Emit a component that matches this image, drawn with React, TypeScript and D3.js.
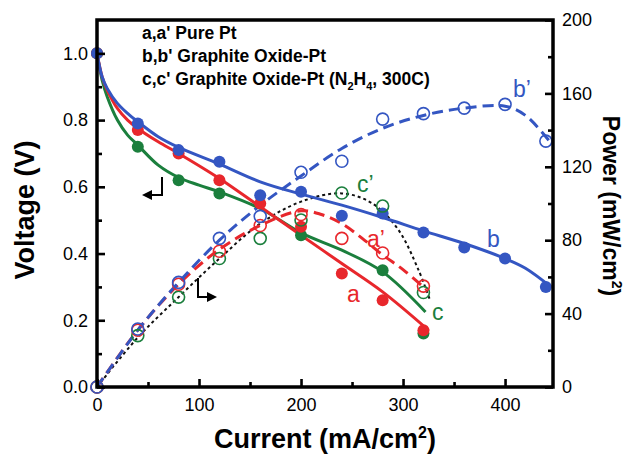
import React, { useEffect, useRef } from 'react';
import * as d3 from 'd3';

const FONT = 'Arial, "Liberation Sans", Helvetica, sans-serif';
const BLUE = '#3456c2';
const RED = '#e8272c';
const GREEN = '#1b7f3d';

// Measured points
const currentAC = [0, 40, 80, 120, 160, 200, 240, 280, 320];
const currentB = [0, 40, 80, 120, 160, 200, 240, 280, 320, 360, 400, 440];
const currentCV = [0, 40, 80, 120, 200, 280, 320];
const voltA = [1.0, 0.77, 0.70, 0.62, 0.55, 0.48, 0.34, 0.26, 0.17];
const voltB = [1.0, 0.79, 0.71, 0.675, 0.575, 0.585, 0.513, 0.52, 0.463, 0.418, 0.385, 0.30];
const voltC = [1.0, 0.72, 0.62, 0.58, 0.455, 0.35, 0.16];
const powA = [0, 31, 56, 74, 88, 94, 81, 73, 55];
const powB = [0, 31.6, 57, 81, 93, 117, 123, 146, 149, 152, 154, 134];
const powC = [0, 28, 49, 70, 81, 91, 105.7, 98.6, 51.5];

// Fitted curves
const fitXA = [0, 5, 10, 20, 30, 40, 60, 80, 120, 160, 200, 240, 280, 325];
const fitVA = [1.0, 0.93, 0.89, 0.835, 0.80, 0.775, 0.735, 0.70, 0.625, 0.54, 0.455, 0.37, 0.285, 0.17];
const fitXB = [0, 5, 10, 20, 30, 40, 60, 80, 120, 160, 200, 240, 280, 320, 360, 400, 420, 445];
const fitVB = [1.0, 0.93, 0.895, 0.85, 0.82, 0.795, 0.75, 0.718, 0.668, 0.615, 0.578, 0.545, 0.508, 0.468, 0.43, 0.385, 0.356, 0.30];
const fitXC = [0, 5, 10, 20, 30, 40, 60, 80, 100, 120, 160, 200, 240, 280, 322];
const fitVC = [1.0, 0.92, 0.87, 0.80, 0.755, 0.725, 0.665, 0.628, 0.605, 0.585, 0.535, 0.462, 0.41, 0.345, 0.225];
const fitXPA = [0, 40, 80, 120, 160, 200, 220, 240, 260, 280, 300, 323];
const fitPA = [0, 31, 56, 75, 88, 96, 94, 89, 81, 72, 64, 53];
const fitXPB = [0, 40, 80, 120, 160, 200, 240, 280, 320, 360, 400, 420, 445];
const fitPB = [0, 31, 57, 80, 99, 115, 130, 141, 148, 152, 153, 148, 133];
const fitXPC = [0, 40, 80, 120, 160, 200, 240, 270, 295, 315, 326];
const fitPC = [0, 27, 49, 70, 89, 101, 105.5, 100, 86, 64, 48];

const xTicks = [0, 100, 200, 300, 400];
const xMinor = [50, 150, 250, 350];
const vTicks = [0, 0.2, 0.4, 0.6, 0.8, 1.0];
const vMinor = [0.1, 0.3, 0.5, 0.7, 0.9];
const pTicks = [0, 40, 80, 120, 160, 200];
const pMinor = [20, 60, 100, 140, 180];

export default function App() {
  const axRef = useRef<SVGGElement>(null);
  const x = d3.scaleLinear().domain([0, 447]).range([97, 553]);
  const yV = d3.scaleLinear().domain([0, 1.1]).range([387, 20]);
  const yP = d3.scaleLinear().domain([0, 200]).range([387, 20]);

  useEffect(() => {
    const g = d3.select(axRef.current);
    g.selectAll('*').remove();
    const style = (sel: any) => {
      sel.select('.domain').remove();
      sel.selectAll('text').attr('font-size', 18).attr('font-family', FONT).attr('fill', '#000');
      sel.selectAll('line').attr('stroke', '#000').attr('stroke-width', 2.6);
    };
    g.append('g').attr('transform', 'translate(0,387)')
      .call(d3.axisBottom(x).tickValues(xTicks).tickSize(-8).tickPadding(11).tickFormat(d3.format('d'))).call(style);
    g.append('g').attr('transform', 'translate(0,387)')
      .call(d3.axisBottom(x).tickValues(xMinor).tickSize(-5).tickFormat(() => '')).call(style);
    g.append('g').attr('transform', 'translate(97,0)')
      .call(d3.axisLeft(yV).tickValues(vTicks).tickSize(-8).tickPadding(9).tickFormat(d3.format('.1f'))).call(style);
    g.append('g').attr('transform', 'translate(97,0)')
      .call(d3.axisLeft(yV).tickValues(vMinor).tickSize(-5).tickFormat(() => '')).call(style);
    g.append('g').attr('transform', 'translate(553,0)')
      .call(d3.axisRight(yP).tickValues(pTicks).tickSize(-8).tickPadding(9).tickFormat(d3.format('d'))).call(style);
    g.append('g').attr('transform', 'translate(553,0)')
      .call(d3.axisRight(yP).tickValues(pMinor).tickSize(-5).tickFormat(() => '')).call(style);
  }, []);

  const lineV = (xs: number[], ys: number[]) =>
    d3.line<number>().x((_, i) => x(xs[i])).y((d) => yV(d)).curve(d3.curveCatmullRom.alpha(0.5))(ys) || '';
  const lineP = (xs: number[], ys: number[]) =>
    d3.line<number>().x((_, i) => x(xs[i])).y((d) => yP(d)).curve(d3.curveCatmullRom.alpha(0.5))(ys) || '';

  const R = 6;
  const filled = (xs: number[], ys: number[], c: string, k: string) =>
    ys.map((v, i) => <circle key={k + i} cx={x(xs[i])} cy={yV(v)} r={R} fill={c} />);
  const open = (xs: number[], ys: number[], c: string, k: string) =>
    ys.map((v, i) => <circle key={k + i} cx={x(xs[i])} cy={yP(v)} r={R} fill="none" stroke={c} strokeWidth={1.6} />);

  return (
    <svg width={627} height={456} style={{ position: 'absolute', left: 0, top: 0, background: '#fff' }}>
      <rect x={0} y={0} width={627} height={456} fill="#fff" />
      {/* fitted curves */}
      <path d={lineP(fitXPC, fitPC)} fill="none" stroke="#111" strokeWidth={2} strokeDasharray="3,3" />
      <path d={lineP(fitXPA, fitPA)} fill="none" stroke={RED} strokeWidth={3} strokeDasharray="11,6" />
      <path d={lineP(fitXPB, fitPB)} fill="none" stroke={BLUE} strokeWidth={3} strokeDasharray="11,6" />
      <path d={lineV(fitXC, fitVC)} fill="none" stroke={GREEN} strokeWidth={3} />
      <path d={lineV(fitXA, fitVA)} fill="none" stroke={RED} strokeWidth={3} />
      <path d={lineV(fitXB, fitVB)} fill="none" stroke={BLUE} strokeWidth={3} />
      {/* markers */}
      {filled(currentCV, voltC, GREEN, 'fc')}
      {filled(currentAC, voltA, RED, 'fa')}
      {filled(currentB, voltB, BLUE, 'fb')}
      {open(currentAC, powC, GREEN, 'oc')}
      {open(currentAC, powA, RED, 'oa')}
      {open(currentB, powB, BLUE, 'ob')}
      {/* frame */}
      <rect x={97} y={20} width={456} height={367} fill="none" stroke="#000" strokeWidth={3.5} />
      <g ref={axRef} />
      {/* arrows */}
      <path d="M162,177 V195 H150" fill="none" stroke="#000" strokeWidth={2} />
      <path d="M142,195 L152,190 L152,200 Z" fill="#000" />
      <path d="M198,278 V297 H208" fill="none" stroke="#000" strokeWidth={2} />
      <path d="M217,297 L207,292 L207,302 Z" fill="#000" />
      {/* curve labels */}
      <g fontFamily={FONT} fontSize={23}>
        <text x={347} y={302} fill={RED}>a</text>
        <text x={367} y={247} fill={RED}>a’</text>
        <text x={487} y={247} fill={BLUE}>b</text>
        <text x={513} y={97} fill={BLUE}>b’</text>
        <text x={432} y={320} fill={GREEN}>c</text>
        <text x={357} y={192} fill={GREEN}>c’</text>
      </g>
      {/* legend */}
      <g fontFamily={FONT} fontSize={17.5} fontWeight="bold" fill="#000">
        <text x={142} y={39}>a,a' Pure Pt</text>
        <text x={142} y={62}>b,b' Graphite Oxide-Pt</text>
        <text x={142} y={85}>c,c' Graphite Oxide-Pt (N<tspan dy={5} fontSize={11}>2</tspan><tspan dy={-5}>H</tspan><tspan dy={5} fontSize={11}>4</tspan><tspan dy={-5}>, 300C)</tspan></text>
      </g>
      {/* axis titles */}
      <g fontFamily={FONT} fontWeight="bold" fill="#000">
        <text x={325} y={448} textAnchor="middle" fontSize={27}>Current (mA/cm<tspan dy={-10} fontSize={16}>2</tspan><tspan dy={10}>)</tspan></text>
        <text transform="translate(34,210) rotate(-90)" textAnchor="middle" fontSize={27}>Voltage (V)</text>
        <text transform="translate(603,206) rotate(90)" textAnchor="middle" fontSize={23}>Power (mW/cm<tspan dy={-9} fontSize={14}>2</tspan><tspan dy={9}>)</tspan></text>
      </g>
    </svg>
  );
}
